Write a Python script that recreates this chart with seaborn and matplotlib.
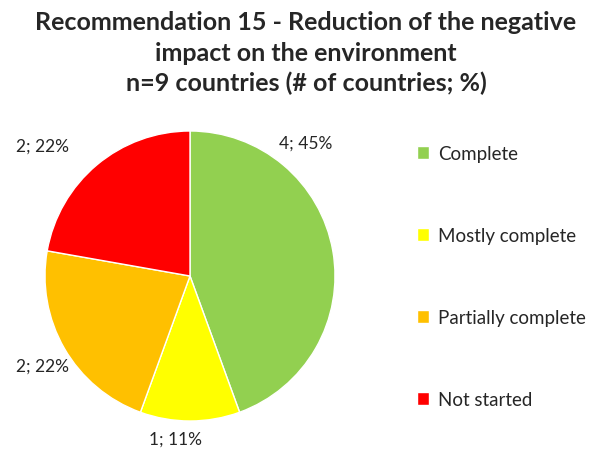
import seaborn as sns
import matplotlib.pyplot as plt
from matplotlib.patches import Patch

sns.set_style("white")
plt.rcParams['font.family'] = ['Lato', 'DejaVu Sans']

categories = ['Complete', 'Mostly complete', 'Partially complete', 'Not started']
counts = [4, 1, 2, 2]
percents = [45, 11, 22, 22]
colors = ['#92D050', '#FFFF00', '#FFC000', '#FF0000']

# label positions in pie units (Excel places them freely)
label_pos = [(0.80, 0.92), (-0.10, -1.12), (-1.02, -0.62), (-1.02, 0.90)]

fig = plt.figure(figsize=(6.06, 4.56), dpi=100)
ax = fig.add_axes([45 / 606, 34 / 456, 290 / 606, 290 / 456])

wedges, _ = ax.pie(counts, colors=colors, startangle=90, counterclock=False,
                   wedgeprops=dict(linewidth=1, edgecolor='white'))
for (x, y), c, p in zip(label_pos, counts, percents):
    ax.text(x, y, f"{c}; {p}%", ha='center', va='center', fontsize=12.5, color='#262626')
ax.set_xlim(-1, 1)
ax.set_ylim(-1, 1)
ax.set_aspect('equal')
ax.axis('off')

fig.text(0.505, 0.975, "Recommendation 15 - Reduction of the negative\nimpact on the environment\nn=9 countries (# of countries; %)",
         ha='center', va='top', fontsize=18, fontweight='bold', linespacing=1.38)

handles = [Patch(facecolor=c, label=l) for c, l in zip(colors, categories)]
fig.legend(handles=handles, loc='upper left', bbox_to_anchor=(400 / 606, 1 - 129 / 456),
           frameon=False, fontsize=13.5, handlelength=0.65, handleheight=0.65,
           handletextpad=0.5, labelspacing=3.47)

fig.savefig('out.png', dpi=100)
